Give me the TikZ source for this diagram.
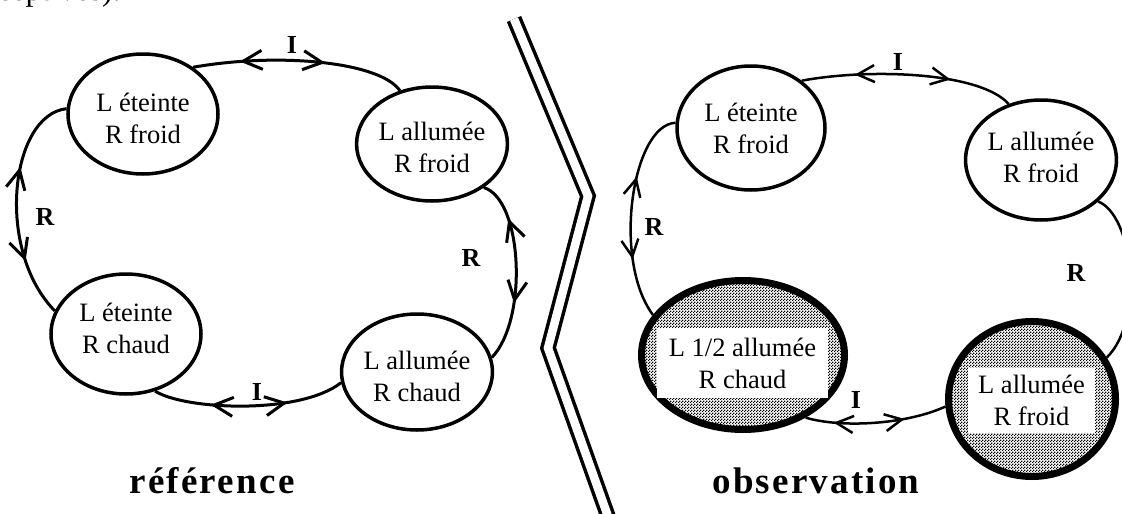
\documentclass[tikz,border=0pt]{standalone}
\usepackage{fontspec}
\setmainfont{Liberation Serif}
\newfontfamily\titlefont[LetterSpace=6]{Liberation Serif}
\usetikzlibrary{shapes.geometric,arrows.meta,decorations.markings,patterns.meta}
\tikzdeclarepattern{
  name=chk,
  type=uncolored,
  bounding box={(0pt,0pt) and (3pt,3pt)},
  tile size={(3pt,3pt)},
  code={\fill (0pt,0pt) rectangle (1.5pt,1.5pt); \fill (1.5pt,1.5pt) rectangle (3pt,3pt);}
}
\newcommand\nodefont{\fontsize{26.5pt}{32pt}\selectfont}
\newcommand\labfont{\fontsize{26pt}{26pt}\selectfont\bfseries}
\newcommand\ttlfont{\titlefont\bfseries\fontsize{37pt}{37pt}\selectfont}
% two-line state text, drawn shifted vertically by #1 without changing the box
\newcommand\twol[3]{\raisebox{#1}[\height][\depth]{\begin{tabular}{@{}c@{}}#2\\#3\end{tabular}}}
\begin{document}
\begin{tikzpicture}[x=1pt,y=-1pt,
  state/.style={ellipse, draw, line width=3.5pt, inner sep=0pt, font=\nodefont},
  obsstate/.style={ellipse, draw, line width=7pt, inner sep=0pt, pattern=chk, pattern color=black},
  whitebox/.style={rectangle, fill=white, inner sep=0pt, font=\nodefont},
  conn/.style={line width=3pt},
  connr/.style={line width=2.5pt},
  lab/.style={font=\labfont, inner sep=0pt},
  ttl/.style={font=\ttlfont, anchor=base, inner sep=0pt},
  twoway/.style n args={3}{postaction={decorate, decoration={markings,
     mark=at position #1 with {\arrowreversed{Straight Barb[length=#3,width=#3]}},
     mark=at position #2 with {\arrow{Straight Barb[length=#3,width=#3]}}}}}
]
\useasboundingbox (0,0) rectangle (1122,514);
\fill[white] (0,0) rectangle (1122,514);

% cut-off text line at top
\node[anchor=base west, inner sep=0pt, font=\fontsize{32pt}{32pt}\selectfont] (frag) at (-3,0) {ceptives).};

% separator
\draw[line width=3.5pt, double=white, double distance=8.5pt, line join=miter]
  (514,19) -- (588,196) -- (548,348) -- (610,522);

% reference panel
\node[state, minimum width=150pt, minimum height=120pt] (A) at (143,114) {\twol{-7pt}{L éteinte}{R froid}};
\node[state, minimum width=144pt, minimum height=114pt] (B) at (432,144) {\twol{-6pt}{L allumée}{R froid}};
\node[state, minimum width=150pt, minimum height=120pt] (C) at (126,334) {\twol{3pt}{L éteinte}{R chaud}};
\node[state, minimum width=144pt, minimum height=116pt] (D) at (417,372) {\twol{-7pt}{L allumée}{R chaud}};

\draw[conn, twoway={0.22}{0.62}{19pt}] (A.43) .. controls (280,52) and (380,62) .. (B.121);
\draw[conn, twoway={0.34}{0.75}{19pt}] (A.176) .. controls (10,115) and (-5,250) .. (C.162);
\draw[conn, twoway={0.22}{0.68}{19pt}] (B.-40) .. controls (523,200) and (528,320) .. (D.11);
\draw[conn, twoway={0.3}{0.7}{19pt}] (C.-63) .. controls (185,410) and (300,415) .. (D.188);

\node[lab] (l1) at (292,45) {I};
\node[lab] (l2) at (45,217) {R};
\node[lab] (l3) at (471,258) {R};
\node[lab] (l4) at (257,392) {I};

\node[ttl] (t1) at (212,493) {référence};

% observation panel
\node[state, minimum width=148pt, minimum height=124pt] (E) at (751,128) {\twol{-3pt}{L éteinte}{R froid}};
\node[state, minimum width=146pt, minimum height=120pt] (F) at (1041,160) {\twol{0pt}{L allumée}{R froid}};
\node[obsstate, minimum width=203pt, minimum height=149pt] (G) at (743,355) {};
\node[whitebox, minimum width=171pt, minimum height=70pt] (Gt) at (742.5,363) {\twol{-3pt}{L 1/2 allumée}{R chaud}};
\node[obsstate, minimum width=167pt, minimum height=155pt] (H) at (1032,399) {};
\node[whitebox, minimum width=127pt, minimum height=65pt] (Ht) at (1031.5,400.5) {\twol{-3pt}{L allumée}{R froid}};

\draw[connr, twoway={0.25}{0.7}{17pt}] (E.43) .. controls (870,68) and (980,72) .. (F.120);
\draw[connr, twoway={0.33}{0.72}{17pt}] (E.176) .. controls (632,125) and (612,260) .. (G.156);
\draw[connr] (F.-36) .. controls (1133,215) and (1145,320) .. (H.29);
\draw[connr, twoway={0.2}{0.7}{17pt}] (G.-45) .. controls (840,428) and (905,425) .. (H.185);

\node[lab] (l5) at (898,62) {I};
\node[lab] (l6) at (654,227) {R};
\node[lab] (l7) at (1076,273) {R};
\node[lab] (l8) at (856,400) {I};

\node[ttl] (t2) at (816,493) {observation};
\end{tikzpicture}
\end{document}
